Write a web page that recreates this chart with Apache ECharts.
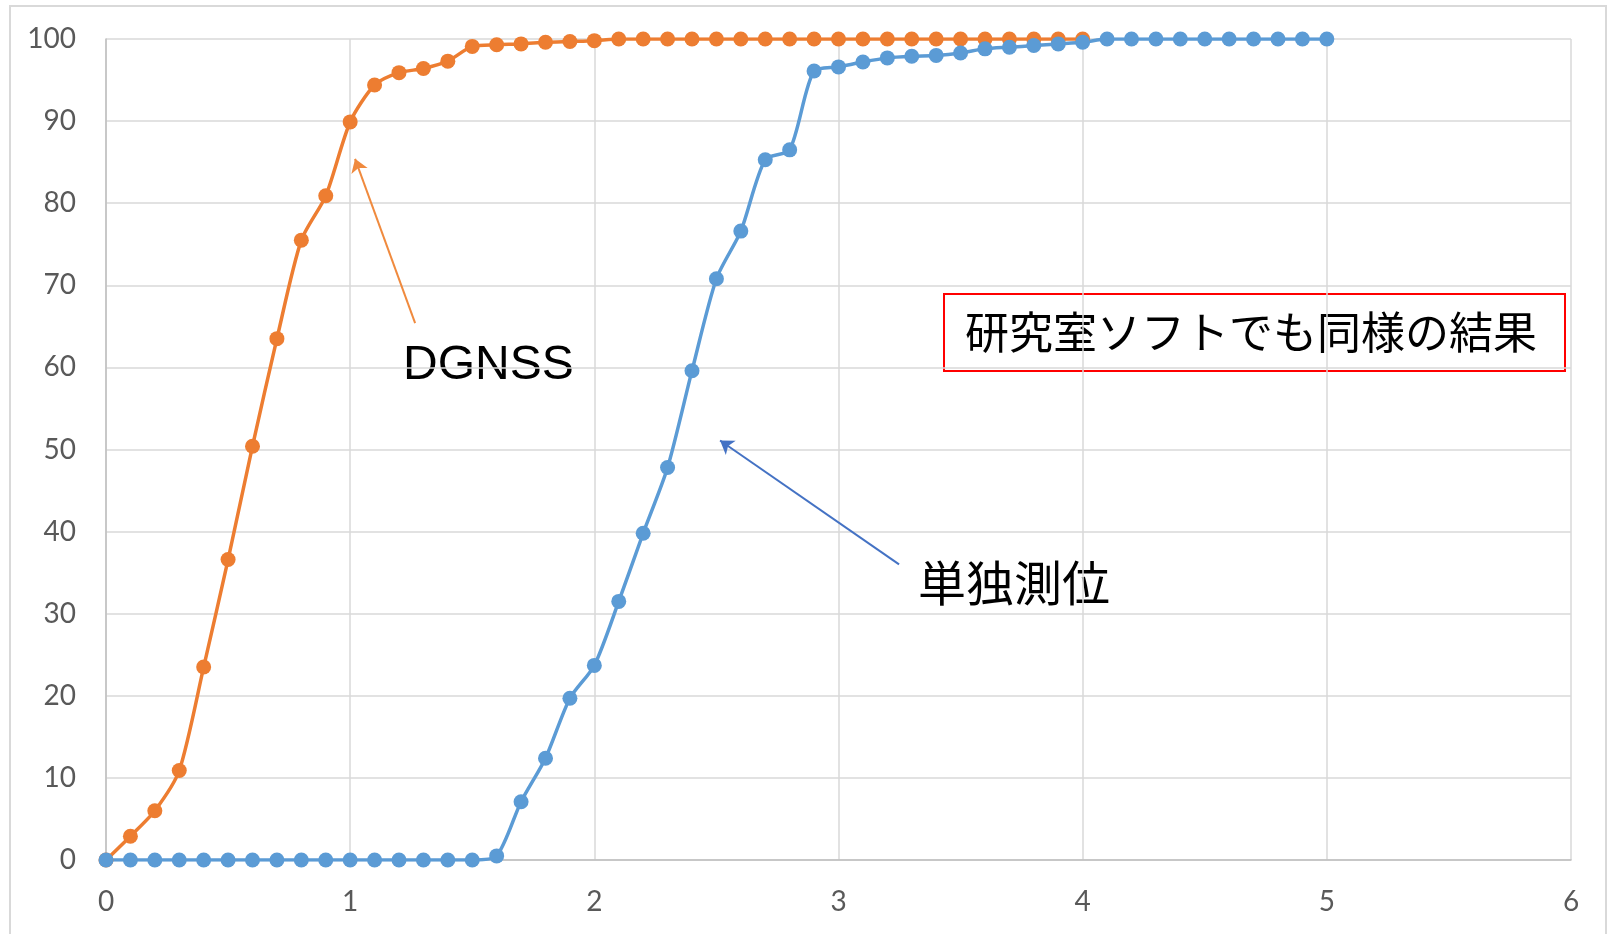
<!DOCTYPE html>
<html>
<head>
<meta charset="utf-8">
<script src="https://cdn.jsdelivr.net/npm/echarts@6/dist/echarts.min.js"></script>
<style>
  html, body { margin: 0; padding: 0; background: #fff; }
  #chart { width: 1608px; height: 934px; }
</style>
</head>
<body>
<div id="chart"></div>
<script>
// x values (0 to 5.0 step 0.1)
const xValues = [0, 0.1, 0.2, 0.3, 0.4, 0.5, 0.6, 0.7, 0.8, 0.9,
  1.0, 1.1, 1.2, 1.3, 1.4, 1.5, 1.6, 1.7, 1.8, 1.9,
  2.0, 2.1, 2.2, 2.3, 2.4, 2.5, 2.6, 2.7, 2.8, 2.9,
  3.0, 3.1, 3.2, 3.3, 3.4, 3.5, 3.6, 3.7, 3.8, 3.9,
  4.0, 4.1, 4.2, 4.3, 4.4, 4.5, 4.6, 4.7, 4.8, 4.9, 5.0];

// DGNSS, 0 .. 4.0
const dgnss = [0, 2.9, 6.0, 10.9, 23.5, 36.6, 50.4, 63.5, 75.5, 80.9,
  89.9, 94.4, 95.9, 96.4, 97.3, 99.1, 99.3, 99.4, 99.6, 99.7,
  99.8, 100, 100, 100, 100, 100, 100, 100, 100, 100,
  100, 100, 100, 100, 100, 100, 100, 100, 100, 100, 100];

// 単独測位, 0 .. 5.0
const single = [0, 0, 0, 0, 0, 0, 0, 0, 0, 0,
  0, 0, 0, 0, 0, 0, 0.5, 7.1, 12.4, 19.7,
  23.7, 31.5, 39.8, 47.8, 59.6, 70.8, 76.6, 85.3, 86.5, 96.1,
  96.6, 97.2, 97.7, 97.9, 98.0, 98.3, 98.8, 99.0, 99.2, 99.4,
  99.6, 100, 100, 100, 100, 100, 100, 100, 100, 100, 100];

const xTicks = [0, 1, 2, 3, 4, 5, 6];
const yTicks = [0, 10, 20, 30, 40, 50, 60, 70, 80, 90, 100];

const pairs = (ys) => ys.map((y, i) => [xValues[i], y]);

const chart = echarts.init(document.getElementById('chart'));

const option = {
  animation: false,
  backgroundColor: '#fff',
  grid: { left: 106, right: 37, top: 39, bottom: 74, containLabel: false },
  xAxis: {
    type: 'value',
    min: xTicks[0],
    max: xTicks[xTicks.length - 1],
    interval: 1,
    axisLine: { show: true, lineStyle: { color: '#BFBFBF', width: 1.5 } },
    axisTick: { show: false },
    axisLabel: { color: '#595959', fontFamily: 'Lato', fontSize: 28, margin: 28 },
    splitLine: { show: true, lineStyle: { color: '#D9D9D9', width: 1.5 } }
  },
  yAxis: {
    type: 'value',
    min: yTicks[0],
    max: yTicks[yTicks.length - 1],
    interval: 10,
    axisLine: { show: true, lineStyle: { color: '#BFBFBF', width: 1.5 } },
    axisTick: { show: false },
    axisLabel: { color: '#595959', fontFamily: 'Lato', fontSize: 28, margin: 30 },
    splitLine: { show: true, lineStyle: { color: '#D9D9D9', width: 1.5 } }
  },
  series: [
    {
      name: 'DGNSS',
      type: 'line',
      data: pairs(dgnss),
      smooth: 0.25,
      symbol: 'circle',
      symbolSize: 15,
      lineStyle: { color: '#ED7D31', width: 3.5 },
      itemStyle: { color: '#ED7D31' },
      markLine: {
        silent: true,
        symbol: ['none', 'arrow'],
        symbolSize: 13,
        label: { show: false },
        lineStyle: { color: '#F08A3E', width: 2, type: 'solid' },
        data: [[{ coord: [1.266, 65.4] }, { coord: [1.02, 85.4] }]]
      }
    },
    {
      name: '単独測位',
      type: 'line',
      data: pairs(single),
      smooth: 0.25,
      symbol: 'circle',
      symbolSize: 15,
      lineStyle: { color: '#5B9BD5', width: 3.5 },
      itemStyle: { color: '#5B9BD5' },
      markLine: {
        silent: true,
        symbol: ['none', 'arrow'],
        symbolSize: 13,
        label: { show: false },
        lineStyle: { color: '#4472C4', width: 2, type: 'solid' },
        data: [[{ coord: [3.248, 36.0] }, { coord: [2.515, 51.1] }]]
      }
    }
  ],
  graphic: [
    {
      type: 'rect', silent: true, z: -1,
      shape: { x: 10, y: 6, width: 1596, height: 940 },
      style: { fill: 'none', stroke: '#D9D9D9', lineWidth: 2 }
    },
    {
      type: 'text', left: 403, top: 342,
      style: { text: 'DGNSS', font: '48px "Liberation Sans", Arial, sans-serif', fill: '#000' }
    },
    {
      type: 'text', left: 918, top: 559,
      style: { text: '単独測位', font: '48px "Noto Sans CJK JP", sans-serif', fill: '#000' }
    },
    {
      type: 'rect', silent: true,
      shape: { x: 944, y: 294, width: 621, height: 77 },
      style: { fill: 'none', stroke: '#FF0000', lineWidth: 2 }
    },
    {
      type: 'text', left: 965, top: 310,
      style: { text: '研究室ソフトでも同様の結果', font: '44px "Noto Sans CJK JP", sans-serif', fill: '#000' }
    }
  ]
};

chart.setOption(option);
</script>
</body>
</html>
